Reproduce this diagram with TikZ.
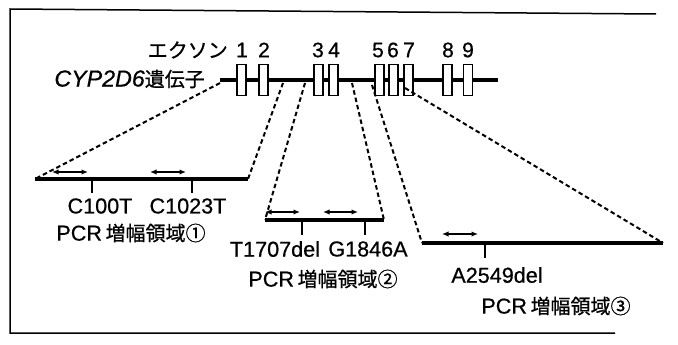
\documentclass[tikz,border=0pt]{standalone}
\usepackage{fontspec}
\setmainfont[Scale=1.08,FakeBold=0.6]{Liberation Sans}
\newfontfamily\cjk[FakeBold=0.8]{Noto Sans CJK JP}
\usetikzlibrary{arrows.meta}
\begin{document}
\begin{tikzpicture}[x=1pt,y=-1pt,
  exon/.style={draw,line width=1.4pt,fill=white,minimum width=9pt,minimum height=31pt,inner sep=0pt},
  lbl/.style={inner sep=0pt,font=\fontsize{20}{24}\selectfont},
  num/.style={inner sep=0pt,font=\fontsize{19.5}{22}\selectfont},
  region/.style={line width=4.5pt},
  zoomline/.style={line width=2pt,dash pattern=on 4.5pt off 3pt},
  primer/.style={line width=1.6pt,{Latex[length=6.5pt,width=5.5pt]}-{Latex[length=6.5pt,width=5.5pt]}},
  tick/.style={line width=1.5pt}]
\useasboundingbox (0,0) rectangle (678,345);
% frame
\draw[line width=1.5pt] (656,14) -- (10,9) -- (10,333) -- (615,333);
% gene
\coordinate (gs) at (220,80);
\coordinate (ge) at (498,80);
\draw[line width=4pt] (gs) -- (ge);
\node[exon] (e1) at (241.5,80) {};
\node[exon] (e2) at (263.5,80) {};
\node[exon] (e3) at (318.5,80) {};
\node[exon] (e4) at (333.5,80) {};
\node[exon] (e5) at (379.5,80) {};
\node[exon] (e6) at (393.5,80) {};
\node[exon] (e7) at (408.5,80) {};
\node[exon] (e8) at (447.5,80) {};
\node[exon] (e9) at (468,80) {};
\node[num] (n1) at (242,50) {1};
\node[num] (n2) at (264,50) {2};
\node[num] (n3) at (318,50) {3};
\node[num] (n4) at (334,50) {4};
\node[num] (n5) at (378,50) {5};
\node[num] (n6) at (393,50) {6};
\node[num] (n7) at (409,50) {7};
\node[num] (n8) at (448,50) {8};
\node[num] (n9) at (468,50) {9};
\node[lbl,anchor=east] (exlbl) at (228,50) {\cjk エクソン};
\node[lbl,anchor=east] (genelbl) at (205,79) {{\fontsize{21.5}{24}\selectfont\textit{CYP2D6}}\cjk 遺伝子};
% gene points for zoom lines
\coordinate (g1a) at (220,83);
\coordinate (g1b) at (283,83);
\coordinate (g2a) at (305,83);
\coordinate (g2b) at (352,83);
\coordinate (g3a) at (372,85);
\coordinate (g3b) at (405,88);
% region 1
\coordinate (r1s) at (35,179);
\coordinate (r1e) at (248,179);
\draw[region] (r1s) -- (r1e);
\draw[zoomline] (g1a) -- (r1s);
\draw[zoomline] (g1b) -- (r1e);
\coordinate (p1a) at (52,172); \coordinate (p1b) at (88,172);
\coordinate (p2a) at (150,172); \coordinate (p2b) at (186,172);
\draw[primer] (p1a) -- (p1b);
\draw[primer] (p2a) -- (p2b);
\coordinate (t1a) at (92,181); \coordinate (t1b) at (92,193);
\coordinate (t2a) at (192,181); \coordinate (t2b) at (192,193);
\draw[tick] (t1a) -- (t1b);
\draw[tick] (t2a) -- (t2b);
\node[lbl] (m1) at (100,206) {C100T};
\node[lbl] (m2) at (188,206) {C1023T};
\node[lbl] (pcr1) at (131,233) {PCR\,\cjk 増幅領域①};
% region 2
\coordinate (r2s) at (265,220);
\coordinate (r2e) at (384,220);
\draw[region] (r2s) -- (r2e);
\draw[zoomline] (g2a) -- (r2s);
\draw[zoomline] (g2b) -- (r2e);
\coordinate (p3a) at (265,212); \coordinate (p3b) at (300,212);
\coordinate (p4a) at (323,212); \coordinate (p4b) at (358,212);
\draw[primer] (p3a) -- (p3b);
\draw[primer] (p4a) -- (p4b);
\coordinate (t3a) at (302,222); \coordinate (t3b) at (302,235);
\coordinate (t4a) at (365,222); \coordinate (t4b) at (365,235);
\draw[tick] (t3a) -- (t3b);
\draw[tick] (t4a) -- (t4b);
\node[lbl] (m3) at (275,249) {T1707del};
\node[lbl] (m4) at (368,249) {G1846A};
\node[lbl] (pcr2) at (323,279) {PCR\,\cjk 増幅領域②};
% region 3
\coordinate (r3s) at (422,243);
\coordinate (r3e) at (663,243);
\draw[region] (r3s) -- (r3e);
\draw[zoomline] (g3a) -- (r3s);
\draw[zoomline] (g3b) -- (r3e);
\coordinate (p5a) at (442,234); \coordinate (p5b) at (478,234);
\draw[primer] (p5a) -- (p5b);
\coordinate (t5a) at (485,245); \coordinate (t5b) at (485,258);
\draw[tick] (t5a) -- (t5b);
\node[lbl] (m5) at (497,275) {A2549del};
\node[lbl] (pcr3) at (556,306) {PCR\,\cjk 増幅領域③};
\end{tikzpicture}
\end{document}
